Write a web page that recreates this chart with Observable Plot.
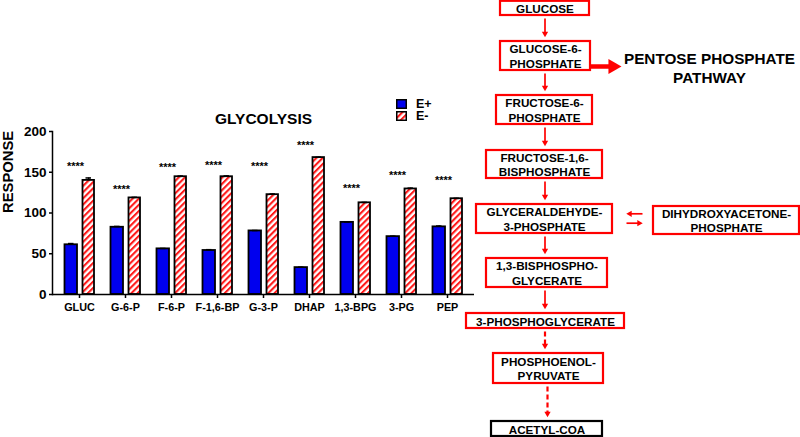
<!DOCTYPE html>
<html>
<head>
<meta charset="utf-8">
<script src="https://cdn.jsdelivr.net/npm/d3@7"></script>
<script src="https://cdn.jsdelivr.net/npm/@observablehq/plot@0.6"></script>
<style>
  html, body { margin: 0; padding: 0; background: #fff; }
  #wrap { position: relative; width: 800px; height: 437px; overflow: hidden; background: #fff;
          font-family: "Liberation Sans", Arial, sans-serif; font-weight: bold; }
  #chart { position: absolute; left: 0; top: 0; }
  #diagram { position: absolute; left: 460px; top: 0; }
  #legend { position: absolute; left: 396px; top: 98px; font-size: 12.5px; line-height: 12px; }
  .row { display: flex; align-items: center; height: 11px; margin-bottom: 1.5px; }
  .row svg { margin-right: 9px; }
</style>
</head>
<body>
<svg width="0" height="0" style="position:absolute">
  <defs>
    <pattern id="hatch" patternUnits="userSpaceOnUse" width="4.4" height="4.4" patternTransform="rotate(45)">
      <rect x="0" y="0" width="4.4" height="4.4" fill="#ffffff"></rect>
      <rect x="0" y="0" width="2.1" height="4.4" fill="#ff1a1a"></rect>
    </pattern>
  </defs>
</svg>
<div id="wrap">
  <div id="chart"></div>
  <div id="diagram"></div>
  <div id="legend">
    <div class="row"><svg width="11" height="10"><rect x="0.75" y="0.75" width="9.5" height="8.5" fill="#0000ee" stroke="#000" stroke-width="1.5"></rect></svg><span>E+</span></div>
    <div class="row"><svg width="11" height="10"><rect x="0.75" y="0.75" width="9.5" height="8.5" fill="url(#hatch)" stroke="#000" stroke-width="1.5"></rect></svg><span>E-</span></div>
  </div>
</div>
<script>
// ---------------- data ----------------
const categories = ["GLUC", "G-6-P", "F-6-P", "F-1,6-BP", "G-3-P", "DHAP", "1,3-BPG", "3-PG", "PEP"];
const ePlus      = [61, 82.5, 56, 54, 78, 33, 88.5, 71, 83];
const ePlusErr   = [1.5, 1, 0.5, 1, 0.5, 0.5, 0.5, 0.5, 1];
const eMinus     = [140, 118.5, 144.5, 144.5, 122.5, 168, 112.5, 129.5, 117.5];
const eMinusErr  = [3, 0.7, 0.8, 1, 0.8, 0.5, 0.5, 1, 0.5];
const starLevel  = [161, 133, 160, 162, 161, 187, 134, 150, 143];
const starText   = "****";
const yTicks     = [0, 50, 100, 150, 200];
const chartTitle = "GLYCOLYSIS";
const yLabel     = "RESPONSE";

const pathwayLabels = [
  "GLUCOSE",
  "GLUCOSE-6-\nPHOSPHATE",
  "FRUCTOSE-6-\nPHOSPHATE",
  "FRUCTOSE-1,6-\nBISPHOSPHATE",
  "GLYCERALDEHYDE-\n3-PHOSPHATE",
  "1,3-BISPHOSPHO-\nGLYCERATE",
  "3-PHOSPHOGLYCERATE",
  "PHOSPHOENOL-\nPYRUVATE",
  "ACETYL-COA",
  "DIHYDROXYACETONE-\nPHOSPHATE"
];
const sideLabel = "PENTOSE PHOSPHATE\nPATHWAY";

// ---------------- layout (diagram, in page pixels) ----------------
const boxLayout = [
  [500, 589, 0.8, 15],
  [500, 590, 41, 70],
  [496, 592, 95, 124],
  [486, 602, 150, 178],
  [476, 612, 204, 233],
  [486, 607, 258, 287],
  [466, 624, 313, 328],
  [493, 603, 353, 383],
  [491, 602, 421, 436],
  [653, 799, 206, 234]
];
const finalIndex = 8;
const steps = [[0,1,false],[1,2,false],[2,3,false],[3,4,false],[4,5,false],[5,6,false],[6,7,true],[7,8,true]];

const nodes = pathwayLabels.map((label, i) => {
  const [x1, x2, y1, y2] = boxLayout[i];
  return {label, x1, x2, y1, y2, cx: (x1 + x2) / 2, cy: (y1 + y2) / 2, final: i === finalIndex};
});
const stemX = 544.5;
const arrows = steps.map(([a, b, dashed]) => ({
  x: b === finalIndex ? 547 : stemX,
  y1: nodes[a].y2 + 3,
  y2: nodes[b].y1 - 4.5,
  dashed
}));

// ---------------- bar chart ----------------
const rows = categories.map((c, i) => ({
  cat: c, plus: ePlus[i], plusErr: ePlusErr[i], minus: eMinus[i], minusErr: eMinusErr[i], star: starLevel[i]
}));

const font = "Liberation Sans, Arial, sans-serif";
const chart = Plot.plot({
  width: 480,
  height: 437,
  marginLeft: 52,
  marginRight: 6,
  marginTop: 131,
  marginBottom: 143,
  style: {fontFamily: font, fontWeight: "bold", background: "transparent", color: "#000"},
  x: {domain: categories, padding: 0, axis: null},
  y: {domain: [0, 200], axis: null},
  marks: [
    Plot.barY(rows, {x: "cat", y: "plus", fill: "#0000ee", stroke: "#000", strokeWidth: 1.8, insetLeft: 8.5, insetRight: 25}),
    Plot.barY(rows, {x: "cat", y: "minus", fill: "url(#hatch)", stroke: "#000", strokeWidth: 1.8, insetLeft: 26.5, insetRight: 8}),
    Plot.ruleX(rows, {x: "cat", y1: "plus", y2: d => d.plus + d.plusErr, dx: -8.3, strokeWidth: 1.5}),
    Plot.tickY(rows, {x: "cat", y: d => d.plus + d.plusErr, insetLeft: 12, insetRight: 28.5, strokeWidth: 1.5}),
    Plot.ruleX(rows, {x: "cat", y1: "minus", y2: d => d.minus + d.minusErr, dx: 9.2, strokeWidth: 1.5}),
    Plot.tickY(rows, {x: "cat", y: d => d.minus + d.minusErr, insetLeft: 29.5, insetRight: 11, strokeWidth: 1.5}),
    Plot.text(rows, {x: "cat", y: "star", text: () => starText, dx: -4, dy: 3, fontSize: 11, fontWeight: "bold"}),
    Plot.ruleY([0], {strokeWidth: 1.5}),
    Plot.frame({anchor: "left", strokeWidth: 1.5}),
    Plot.axisY({ticks: yTicks, tickSize: 3, tickPadding: 3, fontSize: 13.5, fontWeight: "bold", label: null, strokeWidth: 1.5}),
    Plot.axisX({tickSize: 4, tickPadding: 5, fontSize: 10.8, fontWeight: "bold", label: null, strokeWidth: 1.5}),
    Plot.text([chartTitle], {frameAnchor: "top", dy: -19, fontSize: 15.5, fontWeight: "bold"}),
    Plot.text([yLabel], {frameAnchor: "left", rotate: -90, dx: -44.5, fontSize: 14.8, fontWeight: "bold"})
  ]
});
document.getElementById("chart").append(chart);

// ---------------- pathway diagram ----------------
const red = "#ff0000";
const sideArrow = {x1: 590, x2: 610, y: 66, tip: 621};
const swap = [{from: 642, to: 626, y: 213.3}, {from: 626, to: 642, y: 222.7}];

const diagram = Plot.plot({
  width: 340,
  height: 437,
  margin: 0,
  style: {fontFamily: font, fontWeight: "bold", background: "transparent", color: "#000"},
  x: {domain: [460, 800], range: [0, 340], axis: null},
  y: {domain: [0, 437], range: [0, 437], axis: null},
  marks: [
    // vertical arrows (solid and dashed)
    Plot.link(arrows.filter(d => !d.dashed), {x1: "x", x2: "x", y1: "y1", y2: d => d.y2 - 3, stroke: red, strokeWidth: 1.7}),
    Plot.link(arrows.filter(d => d.dashed), {x1: "x", x2: "x", y1: "y1", y2: d => d.y2 - 3, stroke: red, strokeWidth: 2.2, strokeDasharray: "5,3"}),
    Plot.dot(arrows, {x: "x", y: d => d.y2 - 3.4, symbol: "triangle2", r: 3, rotate: 180, fill: red, stroke: "none"}),
    // pentose phosphate branch
    Plot.link([sideArrow], {x1: "x1", x2: "x2", y1: "y", y2: "y", stroke: red, strokeWidth: 4.5}),
    Plot.dot([sideArrow], {x: d => d.tip - 8.7, y: "y", symbol: "triangle2", r: 7.2, rotate: 90, fill: red, stroke: "none"}),
    Plot.text([sideLabel], {x: 709, y: 66.5, fontSize: 15.3, lineHeight: 1.25, fontWeight: "bold"}),
    // reversible step with DHAP
    Plot.link(swap, {x1: d => d.from, x2: d => d.to + (d.to < d.from ? 3 : -3), y1: "y", y2: "y", stroke: red, strokeWidth: 1.7}),
    Plot.dot(swap, {x: d => d.to + (d.to < d.from ? 3.4 : -3.4), y: "y", symbol: "triangle2", r: 3, rotate: d => d.to < d.from ? -90 : 90, fill: red, stroke: "none"}),
    // boxes
    Plot.rect(nodes.filter(d => !d.final), {x1: "x1", x2: "x2", y1: "y1", y2: "y2", fill: "#fff", stroke: red, strokeWidth: 2.2}),
    Plot.rect(nodes.filter(d => d.final), {x1: "x1", x2: "x2", y1: "y1", y2: "y2", fill: "#fff", stroke: "#000", strokeWidth: 2.2}),
    Plot.text(nodes, {x: "cx", y: "cy", text: "label", fontSize: 11.7, lineHeight: 1.2, fontWeight: "bold"})
  ]
});
document.getElementById("diagram").append(diagram);
</script>
</body>
</html>
